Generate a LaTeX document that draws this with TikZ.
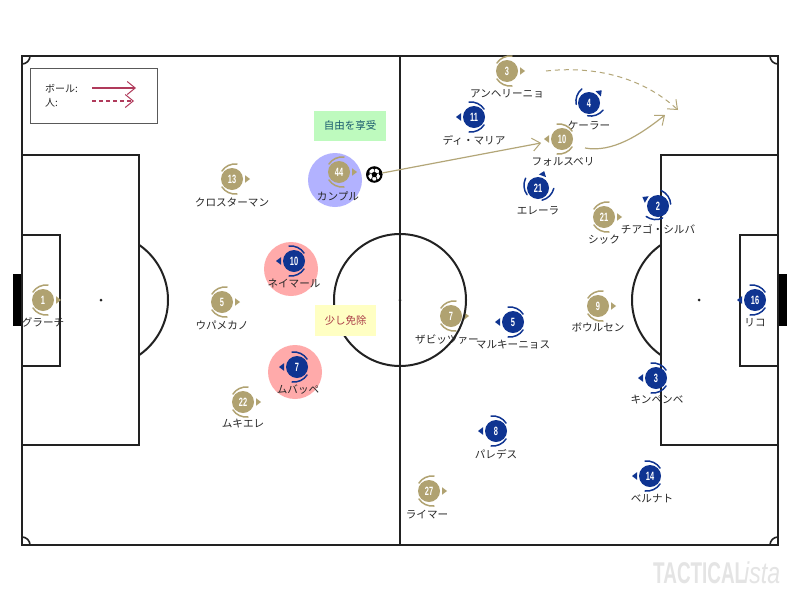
\documentclass[tikz,border=0pt]{standalone}
\usepackage{fontspec}
\usepackage{graphicx}
\setmainfont{Liberation Sans}
\newfontfamily\jpfont{Noto Sans CJK JP}
\usetikzlibrary{arrows.meta}
\definecolor{gold}{HTML}{B0A271}
\definecolor{navy}{HTML}{0F3491}
\definecolor{arrowgold}{HTML}{B3A678}
\definecolor{crim}{HTML}{B03A5B}
\definecolor{pitchline}{HTML}{222222}
\definecolor{wm}{HTML}{E4E4E4}
\tikzset{
  x=1pt,y=-1pt,
  pitch/.style={draw=pitchline,line width=2pt},
  disc/.style={circle,inner sep=0pt,minimum size=22pt,text=white,font=\fontsize{12}{12}\selectfont\bfseries},
  namelabel/.style={inner sep=0pt,text=black!85,font=\jpfont\fontsize{10.6}{11}\selectfont},
  zone/.style={circle,inner sep=0pt,minimum size=54pt},
  notebox/.style={inner sep=0pt,font=\jpfont\fontsize{10.5}{11}\selectfont},
  barb/.style={-{Straight Barb[length=8pt,width=13pt,line width=1pt]}},
  goldarrow/.style={barb,draw=arrowgold,line width=1.2pt},
  legendarrow/.style={barb,draw=crim,line width=1.2pt},
}
\newcommand{\player}[9]{%
  \begin{scope}[shift={(#2,#3)},rotate=#6]
    \fill[#5] (13,-3.8) -- (18,0) -- (13,3.8) -- cycle;
    \draw[#5,line width=1.5pt,line cap=round] (5,15) .. controls (-1,15.6) and (-7,12.8) .. (-10,8);
    \draw[#5,line width=1.5pt,line cap=round] (5,-15) .. controls (-1,-15.6) and (-7,-12.8) .. (-10,-8);
  \end{scope}
  \node[disc,fill=#5] (#1) at (#2,#3) {\scalebox{.62}[1]{#4}};
  \node[namelabel] (#1-name) at (#8,#9) {#7};
}
\begin{document}
\begin{tikzpicture}
\useasboundingbox[fill=white] (0,0) rectangle (800,600);
% goals
\fill[black] (13,274) rectangle (22,326);
\fill[black] (778,274) rectangle (787,326);
% pitch
\draw[pitch] (22,56) rectangle (778,545);
\draw[pitch] (400,56) -- (400,545);
\draw[pitch] (22,155) rectangle (139,445);
\draw[pitch] (22,235) rectangle (60,366);
\draw[pitch] (661,155) rectangle (778,445);
\draw[pitch] (740,235) rectangle (778,366);
\begin{scope}
  \clip (139,150) rectangle (180,450);
  \draw[pitch] (101,300) circle (67);
\end{scope}
\begin{scope}
  \clip (620,150) rectangle (661,450);
  \draw[pitch] (699,300) circle (67);
\end{scope}
\fill[pitchline] (101,300) circle (1.5);
\fill[pitchline] (699,300) circle (1.5);
\fill[pitchline] (400,300) circle (1.5);
% corners
\begin{scope}
  \clip (22,56) rectangle (778,545);
  \draw[pitch,line width=1.6pt] (22,56) circle (8);
  \draw[pitch,line width=1.6pt] (778,56) circle (8);
  \draw[pitch,line width=1.6pt] (22,545) circle (8);
  \draw[pitch,line width=1.6pt] (778,545) circle (8);
\end{scope}
% legend
\node[draw=black!65,line width=1pt,inner sep=0pt,minimum width=127pt,minimum height=55pt] (legend) at (93.5,95.5) {};
\node[namelabel,anchor=west,font=\jpfont\fontsize{10}{11}\selectfont] (legball) at (45,88.5) {ボール:};
\node[namelabel,anchor=west,font=\jpfont\fontsize{10}{11}\selectfont] (legman) at (45,102.5) {人:};
\coordinate (lb1) at (92,88);
\coordinate (lb2) at (136,88);
\coordinate (lm1) at (92,101);
\coordinate (lm2) at (134,101);
\draw[legendarrow] (lb1) -- (lb2);
\draw[legendarrow,dash pattern=on 4pt off 3pt] (lm1) -- (lm2);
% zones
\node[zone,fill=blue!30] (zkan) at (335,180) {};
\node[zone,fill={rgb,255:red,255;green,170;blue,170}] (zney) at (291,269) {};
\node[zone,fill={rgb,255:red,255;green,170;blue,170}] (zmba) at (295,372) {};
% notes
\node[notebox,fill={rgb,255:red,190;green,250;blue,190},minimum width=72pt,minimum height=30pt,text={rgb,255:red,25;green,90;blue,110}] (free) at (350,126) {自由を享受};
% players
\player{p1}{43}{300}{1}{gold}{0}{グラーチ}{43}{322}
\player{p13}{232}{179}{13}{gold}{0}{クロスターマン}{232}{202}
\player{p44}{339}{172}{44}{gold}{0}{カンプル}{338}{196}
\player{p5}{222}{302}{5}{gold}{0}{ウパメカノ}{222}{325}
\player{p22}{243}{402}{22}{gold}{0}{ムキエレ}{243}{424}
\player{p27}{429}{491}{27}{gold}{0}{ライマー}{427}{515}
\player{p7g}{451}{316}{7}{gold}{0}{ザビッツァー}{447}{340}
\player{p3g}{507}{71}{3}{gold}{0}{アンヘリーニョ}{507}{94}
\player{p10g}{562}{139}{10}{gold}{180}{フォルスベリ}{563}{162}
\player{p21g}{604}{217}{21}{gold}{0}{シック}{604}{240}
\player{p9}{598}{306}{9}{gold}{0}{ボウルセン}{598}{327}
\player{p10}{294}{261}{10}{navy}{180}{ネイマール}{294}{283}
\player{p7}{297}{367}{7}{navy}{180}{ムバッペ}{298}{390}
\player{p5b}{513}{322}{5}{navy}{180}{マルキーニョス}{513}{345}
\player{p8}{496}{431}{8}{navy}{180}{パレデス}{496}{454}
\player{p3}{656}{378}{3}{navy}{180}{キンペンベ}{657}{400}
\player{p14}{650}{476}{14}{navy}{180}{ベルナト}{652}{499}
\player{p16}{755}{300}{16}{navy}{180}{リコ}{755}{323}
\player{p11}{474}{117}{11}{navy}{180}{ディ・マリア}{474}{140}
\player{p4}{589}{103}{4}{navy}{45}{ケーラー}{589}{126}
\player{p21}{538}{188}{21}{navy}{70}{エレーラ}{538}{211}
\player{p2}{658}{206}{2}{navy}{150}{チアゴ・シルバ}{658}{229}
% centre circle over the players, under the note
\draw[pitch] (400,300) circle (66);
\node[notebox,fill={rgb,255:red,255;green,255;blue,195},minimum width=61pt,minimum height=31pt,text={rgb,255:red,170;green,60;blue,70}] (exempt) at (345.5,320.5) {少し免除};
% ball
\node[circle,draw=black,fill=white,line width=2pt,inner sep=0pt,minimum size=14.5pt] (ball) at (374.3,174.5) {};
\fill[black] (374.3,171.5) -- (377.2,173.6) -- (376.1,177) -- (372.5,177) -- (371.4,173.6) -- cycle;
\fill[black] (371.5,167.5) -- (377.1,167.5) -- (374.3,169.6) -- cycle;
\fill[black] (367.4,172) -- (369.4,170.5) -- (369.6,174.8) -- (367.4,176) -- cycle;
\fill[black] (381.2,172) -- (379.2,170.5) -- (379,174.8) -- (381.2,176) -- cycle;
\fill[black] (370,180.4) -- (372,178.5) -- (373,181.5) -- cycle;
\fill[black] (378.6,180.4) -- (376.6,178.5) -- (375.6,181.5) -- cycle;
\draw[black,line width=.6pt] (374.3,171.5) -- (374.3,169) (377.2,173.6) -- (379.2,172.8) (376.1,177) -- (377,179) (372.5,177) -- (371.6,179) (371.4,173.6) -- (369.4,172.8);
% arrows
\draw[goldarrow,shorten >=10pt] (ball) -- (p10g);
\coordinate (c1) at (585,148);
\coordinate (c2) at (665,115);
\draw[goldarrow] (c1) .. controls (612,153) and (640,135) .. (c2);
\coordinate (d1) at (546,71);
\coordinate (d2) at (678,110);
\draw[goldarrow,line width=1pt,dash pattern=on 5pt off 4pt] (d1) .. controls (590,66) and (640,75) .. (d2);
% watermark
\node[anchor=base west,inner sep=0pt,text=wm,font=\fontsize{30}{30}\selectfont\bfseries] (wm1) at (653,583) {\scalebox{.63}[1]{TACTICAL}};
\node[anchor=base west,inner sep=0pt,text=wm,font=\fontsize{30}{30}\selectfont\itshape] (wm2) at (744,583) {\scalebox{.77}[1]{ista}};
\end{tikzpicture}
\end{document}
